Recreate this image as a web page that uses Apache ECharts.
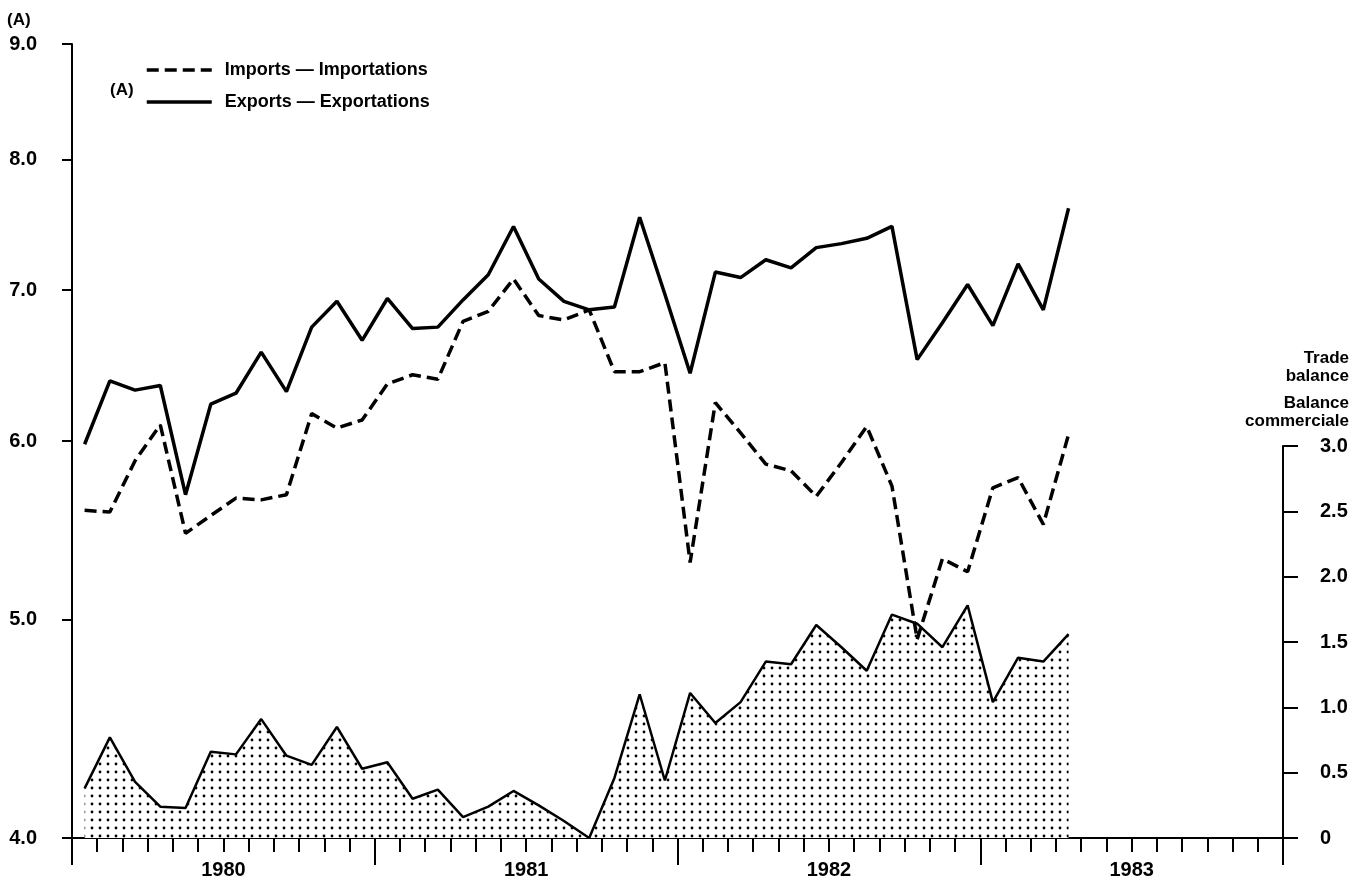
<!DOCTYPE html>
<html><head><meta charset="utf-8">
<script src="https://cdn.jsdelivr.net/npm/echarts@6/dist/echarts.min.js"></script>
<style>html,body{margin:0;padding:0;background:#fff}#c{width:1356px;height:880px}</style>
</head><body><div id="c"></div>
<script>
// ---- data ----
const years = ['1980', '1981', '1982', '1983'];
const months = [
  '1980-01','1980-02','1980-03','1980-04','1980-05','1980-06','1980-07','1980-08','1980-09','1980-10','1980-11','1980-12',
  '1981-01','1981-02','1981-03','1981-04','1981-05','1981-06','1981-07','1981-08','1981-09','1981-10','1981-11','1981-12',
  '1982-01','1982-02','1982-03','1982-04','1982-05','1982-06','1982-07','1982-08','1982-09','1982-10','1982-11','1982-12',
  '1983-01','1983-02','1983-03','1983-04','1983-05','1983-06','1983-07','1983-08','1983-09','1983-10','1983-11','1983-12'
];
const exportsData = [
  5.98, 6.38, 6.32, 6.35, 5.68, 6.23, 6.30, 6.57, 6.31, 6.74, 6.92, 6.65,
  6.94, 6.73, 6.74, 6.93, 7.11, 7.47, 7.08, 6.92, 6.86, 6.88, 7.54, 6.97,
  6.43, 7.13, 7.09, 7.22, 7.16, 7.31, 7.34, 7.38, 7.47, 6.52, 6.77, 7.04,
  6.75, 7.19, 6.86, 7.61
];
const importsData = [
  5.59, 5.58, 5.88, 6.10, 5.46, 5.56, 5.66, 5.65, 5.68, 6.17, 6.08, 6.13,
  6.36, 6.42, 6.39, 6.78, 6.85, 7.08, 6.82, 6.79, 6.86, 6.44, 6.44, 6.50,
  5.30, 6.24, 6.05, 5.86, 5.82, 5.67, 5.87, 6.09, 5.73, 4.90, 5.32, 5.25,
  5.72, 5.78, 5.51, 6.04
];
const balanceData = [
  0.38, 0.77, 0.43, 0.24, 0.23, 0.66, 0.64, 0.91, 0.63, 0.56, 0.85, 0.53,
  0.58, 0.30, 0.37, 0.16, 0.24, 0.36, 0.25, 0.13, 0.00, 0.46, 1.10, 0.44,
  1.11, 0.88, 1.04, 1.35, 1.33, 1.63, 1.46, 1.28, 1.71, 1.64, 1.46, 1.78,
  1.04, 1.38, 1.35, 1.56
];
const leftTicks = [4, 5, 6, 7, 8, 9];
const seriesNames = ['Imports \u2014 Importations', 'Exports \u2014 Exportations'];

// ---- style ----
const FONT = "'Liberation Sans', Arial, Helvetica, sans-serif";
const INK = '#000';
const pat = document.createElement('canvas');
pat.width = 8; pat.height = 8;
const g = pat.getContext('2d');
g.fillStyle = '#fff'; g.fillRect(0, 0, 8, 8);
g.fillStyle = '#000'; g.beginPath(); g.arc(4, 4, 1.4, 0, Math.PI * 2); g.fill();

const labelBase = { color: INK, fontSize: 20, fontWeight: 'bold', fontFamily: FONT };
const txt = (text, x, y, align, size) => ({
  type: 'text', x: x, y: y,
  style: { text: text, fill: INK, font: 'bold ' + size + 'px ' + FONT, textAlign: align, textVerticalAlign: 'middle' }
});

const chart = echarts.init(document.getElementById('c'), null, { renderer: 'canvas' });
chart.setOption({
  animation: false,
  backgroundColor: '#fff',
  grid: [
    { left: 72, right: 73, top: 44, bottom: 42 },
    { left: 72, right: 73, top: 446, bottom: 42 }
  ],
  xAxis: [
    { type: 'category', gridIndex: 0, data: months, boundaryGap: true,
      axisLine: { show: true, lineStyle: { color: INK, width: 2 } },
      axisTick: { show: true, interval: 0, length: 14, inside: false, lineStyle: { color: INK, width: 2 } },
      axisLabel: { show: false }, splitLine: { show: false } },
    { type: 'category', gridIndex: 0, data: years, position: 'bottom', boundaryGap: true,
      axisLine: { show: false },
      axisTick: { show: true, interval: 0, length: 27, lineStyle: { color: INK, width: 2 } },
      axisLabel: Object.assign({ show: true, interval: 0, margin: 22 }, labelBase),
      splitLine: { show: false } },
    { type: 'category', gridIndex: 1, data: months, boundaryGap: true, show: false }
  ],
  yAxis: [
    { type: 'log', gridIndex: 0, min: 4, max: 9, logBase: 10,
      axisLine: { show: true, lineStyle: { color: INK, width: 2 } },
      axisTick: { show: true, length: 10, customValues: leftTicks, lineStyle: { color: INK, width: 2 } },
      axisLabel: Object.assign({ customValues: leftTicks, margin: 35, formatter: v => Number(v).toFixed(1) }, labelBase),
      splitLine: { show: false }, minorTick: { show: false }, minorSplitLine: { show: false } },
    { type: 'value', gridIndex: 1, position: 'right', min: 0, max: 3, interval: 0.5,
      axisLine: { show: true, lineStyle: { color: INK, width: 2 } },
      axisTick: { show: true, length: 15, lineStyle: { color: INK, width: 2 } },
      axisLabel: Object.assign({ margin: 37, formatter: v => v === 0 ? '0' : v.toFixed(1) }, labelBase),
      splitLine: { show: false } }
  ],
  legend: {
    data: seriesNames, orient: 'vertical', left: 145, top: 61, padding: 0,
    itemWidth: 65, itemHeight: 20, itemGap: 14,
    itemStyle: { opacity: 0, borderWidth: 0 },
    lineStyle: { width: 3.5 },
    textStyle: { color: INK, fontSize: 18, fontWeight: 'bold', fontFamily: FONT, padding: [0, 0, 0, 8] }
  },
  series: [
    { name: 'Trade balance', type: 'line', xAxisIndex: 2, yAxisIndex: 1, data: balanceData,
      symbol: 'none', color: INK, lineStyle: { color: INK, width: 2.5 },
      areaStyle: { color: { image: pat, repeat: 'repeat' }, opacity: 1 }, z: 1 },
    { name: seriesNames[0], type: 'line', xAxisIndex: 0, yAxisIndex: 0, data: importsData,
      symbol: 'none', color: INK, lineStyle: { color: INK, width: 3.5, type: [12, 6] }, z: 3 },
    { name: seriesNames[1], type: 'line', xAxisIndex: 0, yAxisIndex: 0, data: exportsData,
      symbol: 'none', color: INK, lineStyle: { color: INK, width: 3.5 }, z: 4 }
  ],
  graphic: [
    txt('(A)', 7, 20, 'left', 17),
    txt('(A)', 110, 90, 'left', 17),
    txt('Trade', 1349, 358, 'right', 17),
    txt('balance', 1349, 376, 'right', 17),
    txt('Balance', 1349, 403, 'right', 17),
    txt('commerciale', 1349, 421, 'right', 17)
  ]
});
</script></body></html>
